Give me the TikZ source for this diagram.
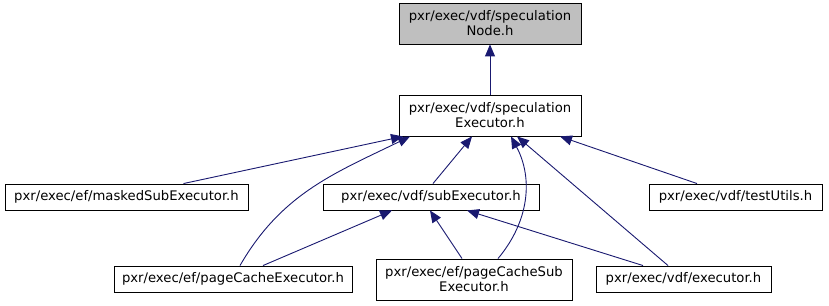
\documentclass[tikz,border=0pt]{standalone}
\usepackage{fontspec}
\setmainfont{DejaVu Sans}
\usetikzlibrary{arrows.meta}

\definecolor{edgeblue}{HTML}{191970}

\begin{document}
\begin{tikzpicture}[
    x=1pt, y=1pt,
    hdr/.style={rectangle, draw=black, fill=white, line width=0.9pt,
                inner sep=0pt, align=center,
                font=\fontsize{13.2}{15}\selectfont},
    dep/.style={-{Triangle[length=12pt,width=10pt]}, edgeblue, line width=0.9pt}
]
\useasboundingbox (0,0) rectangle (829,305);

\node[hdr, fill=black!25, minimum width=182, minimum height=41] (specNode) at (490,281.5)
    {pxr/exec/vdf/speculation\\Node.h};
\node[hdr, minimum width=182, minimum height=41] (specExec) at (490,189.5)
    {pxr/exec/vdf/speculation\\Executor.h};
\node[hdr, minimum width=243, minimum height=26] (masked) at (126.5,108)
    {pxr/exec/ef/maskedSubExecutor.h};
\node[hdr, minimum width=216, minimum height=26] (subExec) at (431,108)
    {pxr/exec/vdf/subExecutor.h};
\node[hdr, minimum width=173, minimum height=26] (testUtils) at (735.5,108)
    {pxr/exec/vdf/testUtils.h};
\node[hdr, minimum width=238, minimum height=26] (pageExec) at (233,26)
    {pxr/exec/ef/pageCacheExecutor.h};
\node[hdr, minimum width=196, minimum height=41] (pageSub) at (474,25.5)
    {pxr/exec/ef/pageCacheSub\\Executor.h};
\node[hdr, minimum width=175, minimum height=26] (vdfExec) at (683.5,26)
    {pxr/exec/vdf/executor.h};

\draw[dep] (specExec.north) -- (specNode.south);

\draw[dep] ([xshift=57]masked.north) -- ([xshift=-87]specExec.south);
\draw[dep] ([xshift=7]pageExec.north) to[out=60,in=206] ([xshift=-80]specExec.south);
\draw[dep] ([xshift=2]subExec.north) -- ([xshift=-18]specExec.south);
\draw[dep] ([xshift=24]pageSub.north) to[out=50,in=-62] ([xshift=21]specExec.south);
\draw[dep] ([xshift=-15.5]vdfExec.north) -- ([xshift=27]specExec.south);
\draw[dep] ([xshift=-38.5]testUtils.north) -- ([xshift=70]specExec.south);

\draw[dep] ([xshift=30]pageExec.north) -- ([xshift=-39]subExec.south);
\draw[dep] ([xshift=-12]pageSub.north) -- ([xshift=-1]subExec.south);
\draw[dep] ([xshift=-40.5]vdfExec.north) -- ([xshift=36]subExec.south);
\end{tikzpicture}
\end{document}
